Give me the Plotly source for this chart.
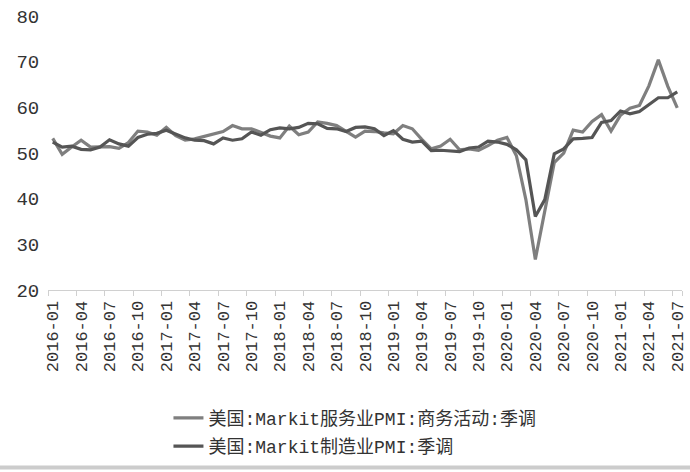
import plotly.graph_objects as go

months = [f"{y}-{m:02d}" for y in range(2016, 2022) for m in range(1, 13)][:67]

services = [53.2, 49.7, 51.3, 52.8, 51.3, 51.4, 51.4, 51.0, 52.3, 54.8, 54.6, 53.9,
            55.6, 53.8, 52.8, 53.1, 53.6, 54.2, 54.7, 56.0, 55.3, 55.3, 54.5, 53.7,
            53.3, 55.9, 54.0, 54.6, 56.8, 56.5, 56.0, 54.8, 53.5, 54.8, 54.7, 54.4,
            54.2, 56.0, 55.3, 53.0, 50.9, 51.5, 53.0, 50.7, 50.9, 50.6, 51.6, 52.8,
            53.4, 49.4, 39.8, 26.7, 37.5, 47.9, 50.0, 55.0, 54.6, 56.9, 58.4, 54.8,
            58.3, 59.8, 60.4, 64.7, 70.4, 64.6, 59.9]

manufacturing = [52.4, 51.3, 51.5, 50.8, 50.7, 51.3, 52.9, 52.0, 51.5, 53.4, 54.1, 54.3,
                 55.0, 54.2, 53.3, 52.8, 52.7, 52.0, 53.3, 52.8, 53.1, 54.6, 53.9, 55.1,
                 55.5, 55.3, 55.6, 56.5, 56.4, 55.4, 55.3, 54.7, 55.6, 55.7, 55.3, 53.8,
                 54.9, 53.0, 52.4, 52.6, 50.5, 50.6, 50.4, 50.3, 51.1, 51.3, 52.6, 52.4,
                 51.9, 50.7, 48.5, 36.1, 39.8, 49.8, 50.9, 53.1, 53.2, 53.4, 56.7, 57.1,
                 59.2, 58.6, 59.1, 60.5, 62.1, 62.1, 63.4]

name_services = "美国:Markit服务业PMI:商务活动:季调"
name_manu = "美国:Markit制造业PMI:季调"
tick_labels = months[::3]
y_ticks = [20, 30, 40, 50, 60, 70, 80]

FONT = "Liberation Mono, Noto Sans CJK SC, sans-serif"

fig = go.Figure()
fig.add_trace(go.Scatter(x=months, y=services, mode="lines", name=name_services,
                         legendgroup="a",
                         line=dict(color="#7f7f7f", width=3.2)))
fig.add_trace(go.Scatter(x=months, y=manufacturing, mode="lines", name=name_manu,
                         legendgroup="b",
                         line=dict(color="#555555", width=3.2)))

fig.update_layout(
    width=690, height=472,
    margin=dict(l=48, r=8, t=16, b=182),
    paper_bgcolor="white", plot_bgcolor="white",
    font=dict(family=FONT, size=18, color="#333333"),
    showlegend=True,
    legend=dict(orientation="v", x=0.19, xanchor="left", y=-0.40, yanchor="top",
                font=dict(family=FONT, size=18, color="#333333"),
                tracegroupgap=2, traceorder="grouped",
                bgcolor="rgba(0,0,0,0)"),
    xaxis=dict(type="category", categoryorder="array", categoryarray=months,
               range=[-0.5, len(months) - 0.5],
               tickmode="array", tickvals=tick_labels, ticktext=tick_labels,
               tickson="boundaries", ticks="outside", ticklen=5, tickcolor="#d0d0d0",
               tickangle=-90, showline=True, linecolor="#d0d0d0", linewidth=1,
               showgrid=False, zeroline=False, automargin=False,
               ticklabelstandoff=3,
               tickfont=dict(family=FONT, size=17, color="#333333")),
    yaxis=dict(range=[20, 80], tickmode="array", tickvals=y_ticks,
               showgrid=False, zeroline=False, showline=False,
               ticks="outside", ticklen=4, tickcolor="rgba(0,0,0,0)",
               automargin=False,
               tickfont=dict(family=FONT, size=19, color="#333333")),
)

fig.add_shape(type="line", xref="paper", yref="paper",
              x0=-0.08, x1=1.02, y0=-0.648, y1=-0.648,
              line=dict(color="#cccccc", width=4))

fig.write_html("out.html", config={"displayModeBar": False},
               post_script="document.body.style.margin='0';document.body.style.overflow='hidden';")
